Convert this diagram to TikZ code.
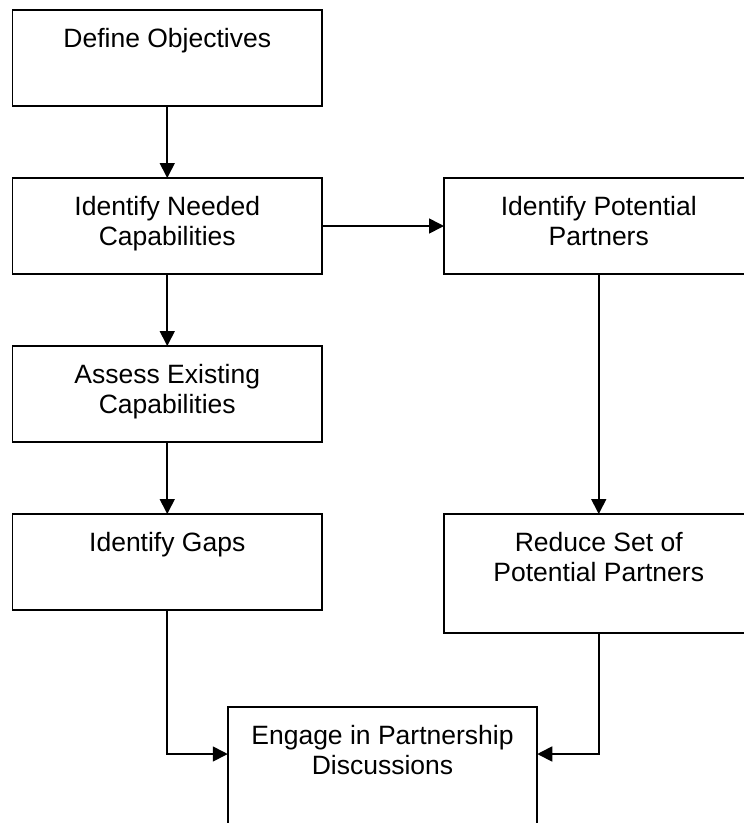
\documentclass[tikz,border=0pt]{standalone}
\usepackage{fontspec}
\setmainfont{Liberation Sans}
\usetikzlibrary{arrows.meta,positioning,calc}

\begin{document}
\begin{tikzpicture}[
    x=1pt, y=-1pt,
    line width=1.7pt,
    block/.style={draw, rectangle, minimum width=309.5pt, minimum height=96pt, inner sep=0pt, outer sep=0pt},
    tall block/.style={block, minimum height=119pt},
    caption/.style={anchor=north, align=center, inner sep=0pt, font=\fontsize{26.5}{30}\selectfont},
    flow/.style={-{Triangle[length=15pt,width=15pt]}},
    ]
    \useasboundingbox (0,0) rectangle (744,823);
    \clip (0,0) rectangle (744,823);

    % left column
    \node[block] (define) at (167.25,58) {};
    \node[block, below=72pt of define] (needed) {};
    \node[block, below=72pt of needed] (assess) {};
    \node[block, below=72pt of assess] (gaps) {};

    % right column
    \node[block, right=122pt of needed] (potential) {};
    \node[tall block, below=240pt of potential] (reduce) {};

    % bottom
    \node[block, minimum height=120pt, anchor=north] (engage) at (382.5,707) {};

    % texts
    \node[caption, below=17pt of define.north] (define-txt) {Define Objectives};
    \node[caption, below=17pt of needed.north] (needed-txt) {Identify Needed\\Capabilities};
    \node[caption, below=17pt of assess.north] (assess-txt) {Assess Existing\\Capabilities};
    \node[caption, below=17pt of gaps.north] (gaps-txt) {Identify Gaps};
    \node[caption, below=17pt of potential.north] (potential-txt) {Identify Potential\\Partners};
    \node[caption, below=17pt of reduce.north] (reduce-txt) {Reduce Set of\\Potential Partners};
    \node[caption, below=17pt of engage.north] (engage-txt) {Engage in Partnership\\Discussions};

    % connectors
    \draw[flow] (define) -- (needed);
    \draw[flow] (needed) -- (assess);
    \draw[flow] (assess) -- (gaps);
    \draw[flow] (needed) -- (potential);
    \draw[flow] (potential) -- (reduce);
    \draw[flow] (gaps.south) |- ($(engage.north west)+(0,47)$);
    \draw[flow] (reduce.south) |- ($(engage.north east)+(0,47)$);
\end{tikzpicture}
\end{document}
